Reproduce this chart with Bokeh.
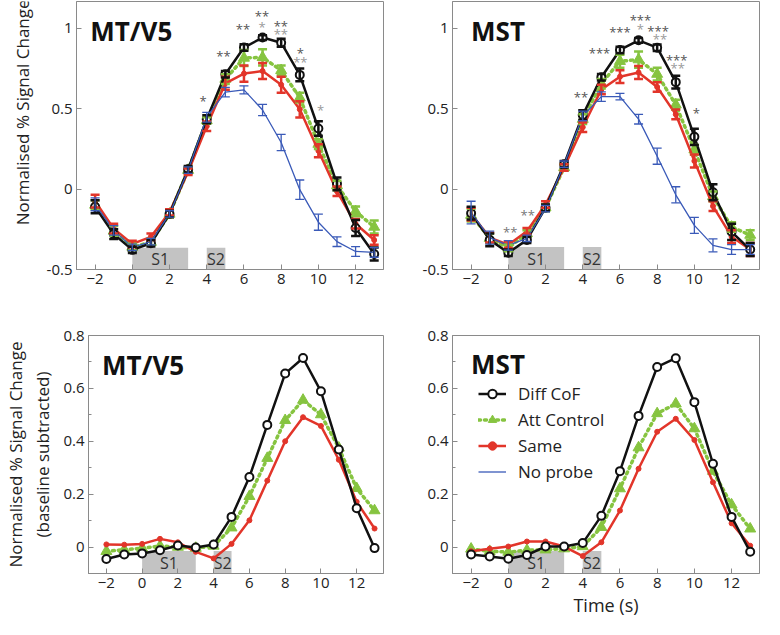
import numpy as np
from bokeh.plotting import figure
from bokeh.models import (ColumnDataSource, Range1d, FixedTicker, Whisker, TeeHead,
                          Label, Legend, LegendItem)
from bokeh.layouts import column, row
from bokeh.embed import file_html
from bokeh.resources import INLINE
from bokeh.core.properties import value

# ---------------- data ----------------
time = [-2, -1, 0, 1, 2, 3, 4, 5, 6, 7, 8, 9, 10, 11, 12, 13]

# Top row: normalised % signal change (with SEM)
mt_diff = [-0.11, -0.28, -0.378, -0.337, -0.155, 0.123, 0.434, 0.713, 0.879, 0.941, 0.909, 0.709, 0.376, 0.032, -0.242, -0.404]
mt_diff_err = [0.04, 0.03, 0.02, 0.02, 0.02, 0.02, 0.025, 0.02, 0.02, 0.015, 0.025, 0.04, 0.045, 0.04, 0.05, 0.04]
mt_att = [-0.099, -0.26, -0.36, -0.33, -0.155, 0.117, 0.426, 0.683, 0.814, 0.818, 0.737, 0.568, 0.279, 0.022, -0.139, -0.236]
mt_att_err = [0.03, 0.03, 0.02, 0.02, 0.02, 0.02, 0.02, 0.03, 0.05, 0.05, 0.03, 0.03, 0.03, 0.03, 0.03, 0.04]
mt_same = [-0.075, -0.246, -0.341, -0.297, -0.145, 0.107, 0.39, 0.657, 0.717, 0.733, 0.648, 0.495, 0.238, -0.014, -0.216, -0.317]
mt_same_err = [0.04, 0.03, 0.02, 0.02, 0.02, 0.02, 0.03, 0.04, 0.05, 0.05, 0.05, 0.05, 0.04, 0.03, 0.03, 0.03]
mt_none = [-0.095, -0.257, -0.362, -0.327, -0.155, 0.117, 0.446, 0.602, 0.616, 0.491, 0.289, -0.004, -0.206, -0.327, -0.388, -0.394]
mt_none_err = [0.04, 0.03, 0.02, 0.02, 0.02, 0.02, 0.03, 0.03, 0.025, 0.035, 0.05, 0.06, 0.05, 0.03, 0.03, 0.03]

mst_diff = [-0.15, -0.316, -0.396, -0.316, -0.116, 0.154, 0.46, 0.694, 0.864, 0.924, 0.878, 0.664, 0.324, -0.02, -0.266, -0.376]
mst_diff_err = [0.04, 0.04, 0.02, 0.02, 0.02, 0.02, 0.03, 0.02, 0.02, 0.015, 0.02, 0.04, 0.05, 0.05, 0.05, 0.04]
mst_att = [-0.162, -0.306, -0.366, -0.276, -0.116, 0.134, 0.434, 0.654, 0.794, 0.804, 0.714, 0.524, 0.244, -0.046, -0.236, -0.286]
mst_att_err = [0.04, 0.03, 0.02, 0.02, 0.02, 0.02, 0.03, 0.03, 0.04, 0.05, 0.04, 0.03, 0.03, 0.03, 0.03, 0.03]
mst_same = [-0.156, -0.302, -0.346, -0.262, -0.096, 0.134, 0.384, 0.618, 0.698, 0.724, 0.634, 0.464, 0.174, -0.106, -0.296, -0.376]
mst_same_err = [0.04, 0.03, 0.02, 0.02, 0.02, 0.02, 0.03, 0.03, 0.04, 0.04, 0.03, 0.03, 0.04, 0.03, 0.04, 0.04]
mst_none = [-0.146, -0.302, -0.35, -0.306, -0.122, 0.154, 0.454, 0.574, 0.574, 0.434, 0.204, -0.036, -0.226, -0.35, -0.376, -0.376]
mst_none_err = [0.07, 0.04, 0.03, 0.02, 0.02, 0.02, 0.03, 0.03, 0.02, 0.03, 0.05, 0.05, 0.05, 0.04, 0.03, 0.03]

# Bottom row: baseline subtracted
mtb_diff = [-0.045, -0.028, -0.024, -0.012, 0.006, -0.002, 0.01, 0.114, 0.265, 0.462, 0.656, 0.715, 0.589, 0.369, 0.147, -0.004]
mtb_att = [-0.016, -0.01, -0.004, 0.004, 0.0, -0.004, 0.004, 0.073, 0.192, 0.336, 0.479, 0.556, 0.501, 0.375, 0.222, 0.138]
mtb_same = [0.01, 0.009, 0.012, 0.031, 0.018, -0.018, -0.043, 0.012, 0.101, 0.251, 0.4, 0.491, 0.458, 0.33, 0.171, 0.07]

mstb_diff = [-0.028, -0.036, -0.044, -0.03, 0.002, 0.002, 0.015, 0.118, 0.287, 0.496, 0.681, 0.714, 0.548, 0.315, 0.114, -0.018]
mstb_att = [-0.007, -0.016, -0.019, -0.012, -0.01, -0.006, 0.002, 0.075, 0.221, 0.376, 0.505, 0.542, 0.448, 0.287, 0.16, 0.069]
mstb_same = [-0.016, -0.006, 0.002, 0.021, 0.021, 0.002, -0.034, 0.018, 0.138, 0.296, 0.436, 0.485, 0.405, 0.245, 0.09, 0.005]

# significance markers
mt_star_x = [3.8, 4.9, 5.95, 6.97, 6.97, 7.98, 7.98, 9.03, 9.03, 10.12]
mt_star_y = [0.57, 0.85, 1.02, 1.10, 1.03, 1.04, 0.986, 0.87, 0.815, 0.515]
mt_star_txt = ["*", "**", "**", "**", "*", "**", "**", "*", "**", "*"]
mt_star_col = ["#555555", "#555555", "#555555", "#555555", "#9a9a9a", "#555555", "#9a9a9a", "#555555", "#9a9a9a", "#9a9a9a"]

mst_star_x = [0.1, 1.04, 3.9, 4.9, 6.0, 7.1, 7.1, 8.05, 8.15, 9.05, 9.1, 10.1]
mst_star_y = [-0.242, -0.136, 0.594, 0.87, 1.0, 1.078, 1.02, 1.004, 0.954, 0.824, 0.774, 0.498]
mst_star_txt = ["**", "**", "**", "***", "***", "***", "*", "***", "**", "***", "**", "*"]
mst_star_col = ["#777777", "#777777", "#555555", "#555555", "#555555", "#555555", "#9a9a9a", "#555555", "#9a9a9a", "#555555", "#9a9a9a", "#555555"]

stim_left = [0, 4]
stim_right = [3, 5]
stim_names = ["S1", "S2"]

x_ticks = [-2, 0, 2, 4, 6, 8, 10, 12]
top_yticks = [-0.5, 0, 0.5, 1]
bot_yticks = [0, 0.2, 0.4, 0.6, 0.8]
bot_yminor = [-0.1, 0.1, 0.3, 0.5, 0.7]

# ---------------- style ----------------
FONT = "Open Sans"
BLACK = "#111111"
GREEN = "#86c440"
RED = "#e2352a"
BLUE = "#3a5ab8"
FRAME = "#8a8a8a"
BOXC = "#c3c3c3"


def make_fig(width, height, bl, br, bt, bb, yr, yticks, yminor=None):
    p = figure(width=width, height=height, output_backend="svg", toolbar_location=None,
               x_range=Range1d(-3, 13.5), y_range=Range1d(*yr),
               min_border_left=bl, min_border_right=br, min_border_top=bt, min_border_bottom=bb)
    p.grid.grid_line_color = None
    p.outline_line_color = FRAME
    p.outline_line_width = 1
    p.background_fill_color = "white"
    p.border_fill_color = "white"
    p.xaxis.ticker = FixedTicker(ticks=x_ticks)
    p.yaxis.ticker = FixedTicker(ticks=yticks, minor_ticks=yminor or [])
    p.yaxis.major_label_overrides = {t: ("%g" % t) for t in yticks}
    for ax in (p.xaxis[0], p.yaxis[0]):
        ax.axis_line_color = FRAME
        ax.major_tick_line_color = FRAME
        ax.major_tick_in = 5
        ax.major_tick_out = 0
        ax.minor_tick_in = 3
        ax.minor_tick_out = 0
        ax.minor_tick_line_color = FRAME if (ax is p.yaxis[0] and yminor) else None
        ax.major_label_text_font = FONT
        ax.major_label_text_font_size = "15px"
        ax.major_label_text_color = "#222222"
        ax.major_label_standoff = 4
        ax.axis_label_text_font = FONT
        ax.axis_label_text_font_style = "normal"
        ax.axis_label_text_color = "#222222"
    return p


def add_stim(p, top, label_y):
    src = ColumnDataSource(dict(left=stim_left, right=stim_right, name=stim_names,
                                cx=[(a + b) / 2 for a, b in zip(stim_left, stim_right)]))
    p.quad(left="left", right="right", bottom=p.y_range.start, top=top, source=src,
           fill_color=BOXC, line_color=None)
    p.text(x="cx", y=label_y, text="name", source=src, text_font=value(FONT),
           text_font_size="16px", text_color="#333333", text_align="center", text_baseline="middle")


def add_title(p, txt, x, y):
    p.add_layout(Label(x=x, y=y, text=txt, text_font=FONT, text_font_size="26px",
                       text_font_style="bold", text_color="#111111", text_baseline="alphabetic"))


def add_errors(p, y, err, color, width, head):
    src = ColumnDataSource(dict(x=time, lo=[a - e for a, e in zip(y, err)], hi=[a + e for a, e in zip(y, err)]))
    w = Whisker(source=src, base="x", upper="hi", lower="lo", line_color=color, line_width=width,
                upper_head=TeeHead(size=head, line_color=color, line_width=width),
                lower_head=TeeHead(size=head, line_color=color, line_width=width))
    w.level = "glyph"
    p.add_layout(w)


def add_series(p, diff, att, same, none=None, errs=None):
    r = {}
    if errs:
        add_errors(p, att, errs[1], GREEN, 2.5, 9)
    r["att_l"] = p.line(time, att, line_color=GREEN, line_width=3.5, line_dash="2 4", line_cap="round")
    r["att_m"] = p.scatter(time, att, marker="triangle", size=11, fill_color=GREEN, line_color=GREEN)
    if errs:
        add_errors(p, same, errs[2], RED, 2.5, 9)
    r["same_l"] = p.line(time, same, line_color=RED, line_width=2.5)
    r["same_m"] = p.scatter(time, same, marker="circle", size=5, fill_color=RED, line_color=RED)
    if errs:
        add_errors(p, diff, errs[0], BLACK, 2.5, 9)
    r["diff_l"] = p.line(time, diff, line_color=BLACK, line_width=2.5)
    r["diff_m"] = p.scatter(time, diff, marker="circle", size=8, fill_color="white", line_color=BLACK, line_width=2)
    if none is not None:
        add_errors(p, none, errs[3], BLUE, 1.3, 9)
        r["none_l"] = p.line(time, none, line_color=BLUE, line_width=1.3)
    return r


def add_stars(p, xs, ys, txt, col):
    src = ColumnDataSource(dict(x=xs, y=ys, t=txt, c=col))
    p.text(x="x", y="y", text="t", text_color="c", source=src, text_font=value(FONT),
           text_font_size="13px", text_align="center", text_baseline="middle", y_offset=4)


TOP_Y = (-0.5, 1.165)
BOT_Y = (-0.1, 0.8)

# ---- narrow panel carrying the top y-axis title ----
lab = figure(width=36, height=307, output_backend="svg", toolbar_location=None,
             x_range=Range1d(0, 36), y_range=Range1d(0, 307),
             min_border_left=0, min_border_right=0, min_border_top=0, min_border_bottom=0)
lab.axis.visible = False
lab.grid.grid_line_color = None
lab.outline_line_color = None
lab.add_layout(Label(x=22, y=180, angle=np.pi / 2,
                     text="Normalised % Signal Change", text_font=FONT, text_font_size="17px",
                     text_color="#222222", text_align="center", text_baseline="middle"))

# ---- top left ----
tl = make_fig(372, 307, 40, 25, 1, 38, TOP_Y, top_yticks)
add_stim(tl, -0.365, -0.435)
add_series(tl, mt_diff, mt_att, mt_same, mt_none, (mt_diff_err, mt_att_err, mt_same_err, mt_none_err))
add_stars(tl, mt_star_x, mt_star_y, mt_star_txt, mt_star_col)
add_title(tl, "MT/V5", -2.26, 0.984)

# ---- top right ----
tr = make_fig(356, 307, 44, 5, 1, 38, TOP_Y, top_yticks)
add_stim(tr, -0.36, -0.435)
add_series(tr, mst_diff, mst_att, mst_same, mst_none, (mst_diff_err, mst_att_err, mst_same_err, mst_none_err))
add_stars(tr, mst_star_x, mst_star_y, mst_star_txt, mst_star_col)
add_title(tr, "MST", -2.0, 0.984)

# ---- bottom left ----
bl = make_fig(408, 312, 76, 25, 28, 44, BOT_Y, bot_yticks, bot_yminor)
bl.yaxis.axis_label = "Normalised % Signal Change\n(baseline subtracted)"
bl.yaxis.axis_label_text_font_size = "17px"
bl.yaxis.axis_label_standoff = 6
add_stim(bl, -0.015, -0.06)
add_series(bl, mtb_diff, mtb_att, mtb_same)
add_title(bl, "MT/V5", -2.24, 0.688)

# ---- bottom right ----
br = make_fig(356, 312, 44, 5, 28, 44, BOT_Y, bot_yticks, bot_yminor)
br.xaxis.axis_label = "Time (s)"
br.xaxis.axis_label_text_font_size = "18px"
br.xaxis.axis_label_standoff = 2
add_stim(br, -0.015, -0.06)
rr = add_series(br, mstb_diff, mstb_att, mstb_same)
none_dummy = br.line(x=[np.nan], y=[np.nan], line_color=BLUE, line_width=1.3)
add_title(br, "MST", -2.0, 0.693)

legend = Legend(items=[
    LegendItem(label="Diff CoF", renderers=[rr["diff_l"], rr["diff_m"]]),
    LegendItem(label="Att Control", renderers=[rr["att_l"], rr["att_m"]]),
    LegendItem(label="Same", renderers=[rr["same_l"], rr["same_m"]]),
    LegendItem(label="No probe", renderers=[none_dummy]),
], location=(26, 90))
legend.border_line_color = None
legend.background_fill_alpha = 0
legend.label_text_font = FONT
legend.label_text_font_size = "17px"
legend.label_text_color = "#222222"
legend.glyph_width = 28
legend.glyph_height = 21
legend.label_height = 21
legend.spacing = 3
legend.padding = 0
legend.margin = 0
legend.label_standoff = 12
br.add_layout(legend)

layout = column(row(lab, tl, tr), row(bl, br))
open("out.html", "w").write(file_html(layout, INLINE))
